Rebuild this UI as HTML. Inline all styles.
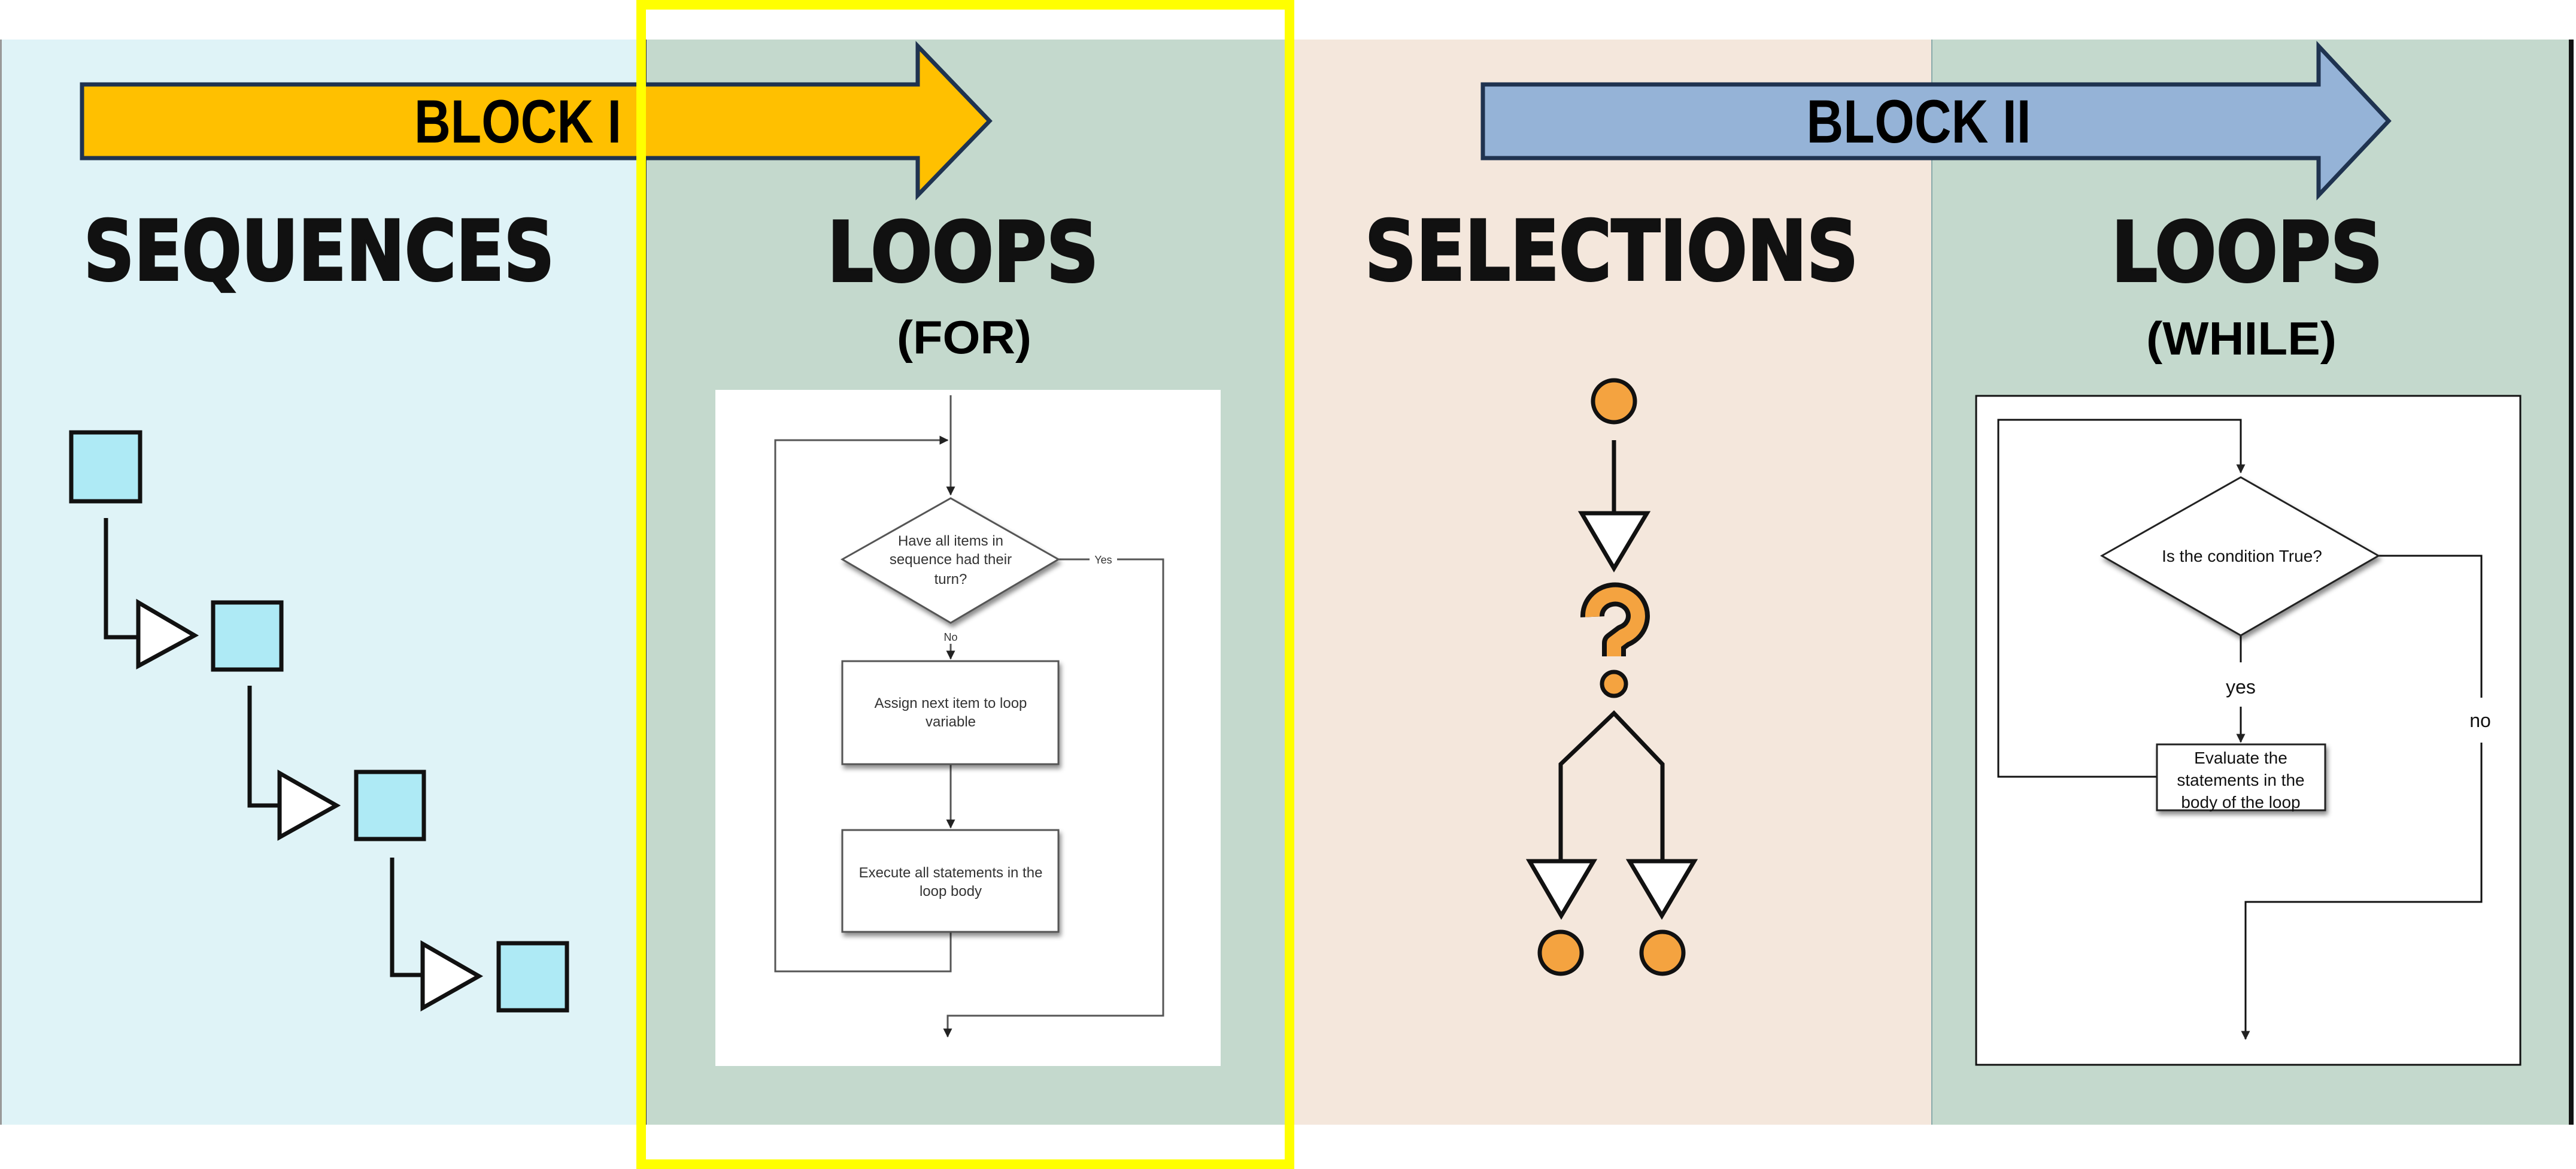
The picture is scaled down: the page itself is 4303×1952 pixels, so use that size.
<!DOCTYPE html>
<html><head><meta charset="utf-8"><style>html,body{margin:0;padding:0;background:#fff}svg{display:block}</style></head>
<body>
<svg width="4303" height="1952" viewBox="0 0 4303 1952" xmlns="http://www.w3.org/2000/svg">
<defs>
<marker id="ah" viewBox="0 0 10 10" refX="9" refY="5" markerWidth="5" markerHeight="5" orient="auto"><path d="M0,0L10,5L0,10z" fill="#222"/></marker>
<filter id="sh" x="-10%" y="-10%" width="130%" height="130%"><feDropShadow dx="3" dy="6" stdDeviation="4" flood-color="#000" flood-opacity="0.45"/></filter>
</defs>
<rect width="4303" height="1952" fill="#fff"/>
<!-- panels -->
<rect x="0" y="66" width="1078" height="1812" fill="#dff3f7"/>
<rect x="0" y="66" width="3" height="1812" fill="#999"/>
<rect x="1078" y="66" width="1072" height="1812" fill="#c4d9cd"/>
<rect x="1076" y="66" width="4" height="1812" fill="#333"/>
<rect x="2150" y="66" width="1077" height="1812" fill="#f4e7dc"/>
<rect x="3227" y="66" width="1066" height="1812" fill="#c4d9cd"/>
<rect x="3226" y="66" width="2" height="1812" fill="#8aa"/>
<rect x="4291" y="66" width="8" height="1812" fill="#111"/>

<!-- arrows -->
<path d="M137,141 L1533,141 L1533,77 L1653,202 L1533,326 L1533,264 L137,264 Z" fill="#ffc000" stroke="#1f3350" stroke-width="7" stroke-linejoin="miter"/>
<text x="865" y="238" font-family="Liberation Sans Narrow, Liberation Sans, sans-serif" font-weight="bold" font-size="102" text-anchor="middle" textLength="346" lengthAdjust="spacingAndGlyphs" fill="#000">BLOCK I</text>
<path d="M2477,141 L3873,141 L3873,77 L3990,202 L3873,326 L3873,264 L2477,264 Z" fill="#95b3d7" stroke="#1f3350" stroke-width="7"/>
<text x="3205" y="238" font-family="Liberation Sans Narrow, Liberation Sans, sans-serif" font-weight="bold" font-size="102" text-anchor="middle" textLength="375" lengthAdjust="spacingAndGlyphs" fill="#000">BLOCK II</text>

<!-- titles -->
<g font-family="DejaVu Sans, Liberation Sans, sans-serif" font-weight="bold" fill="#111" stroke="#111" stroke-width="4">
<text x="140" y="467" font-size="138" textLength="786" lengthAdjust="spacingAndGlyphs">SEQUENCES</text>
<text x="1382" y="469" font-size="138" textLength="453" lengthAdjust="spacingAndGlyphs">LOOPS</text>
<text x="2280" y="467" font-size="138" textLength="824" lengthAdjust="spacingAndGlyphs">SELECTIONS</text>
<text x="3527" y="469" font-size="138" textLength="453" lengthAdjust="spacingAndGlyphs">LOOPS</text>
</g>
<g font-family="Liberation Sans, sans-serif" font-weight="bold" fill="#000">
<text x="1498" y="590" font-size="78" textLength="225" lengthAdjust="spacingAndGlyphs">(FOR)</text>
<text x="3585" y="592" font-size="78" textLength="318" lengthAdjust="spacingAndGlyphs">(WHILE)</text>
</g>

<!-- sequences -->
<g stroke="#111" stroke-width="7" fill="none">
<rect x="119" y="722" width="115" height="115" fill="#aeeaf5"/>
<polyline points="177,865 177,1064 231,1064"/>
<polygon points="231,1006 325,1061 231,1112" fill="#fff"/>
<rect x="356" y="1006" width="114" height="112" fill="#aeeaf5"/>
<polyline points="417,1145 417,1345 467,1345"/>
<polygon points="467,1291 562,1345 467,1398" fill="#fff"/>
<rect x="595" y="1289" width="113" height="112" fill="#aeeaf5"/>
<polyline points="655,1432 655,1628 706,1628"/>
<polygon points="706,1576 800,1630 706,1683" fill="#fff"/>
<rect x="833" y="1575" width="114" height="112" fill="#aeeaf5"/>
</g>

<!-- FOR flowchart -->
<rect x="1195" y="651" width="844" height="1129" fill="#fff"/>
<g stroke="#555" stroke-width="3" fill="none">
<line x1="1588" y1="660" x2="1588" y2="826" marker-end="url(#ah)"/>
<polyline points="1588,1556 1588,1622 1295,1622 1295,735 1583,735" marker-end="url(#ah)"/>
<polyline points="1768,934 1820,934"/>
<polyline points="1866,934 1943,934 1943,1696 1583,1696 1583,1731" marker-end="url(#ah)"/>
<line x1="1588" y1="1075" x2="1588" y2="1100" marker-end="url(#ah)"/>
<line x1="1588" y1="1276" x2="1588" y2="1382" marker-end="url(#ah)"/>
</g>
<g stroke="#555" stroke-width="3" fill="#fff" filter="url(#sh)">
<polygon points="1407,934 1588,832 1768,934 1588,1040"/>
<rect x="1407" y="1104" width="361" height="172"/>
<rect x="1407" y="1386" width="361" height="170"/>
</g>
<g font-family="Liberation Sans, sans-serif" font-size="24" fill="#333" text-anchor="middle">
<text x="1588" y="911">Have all items in</text>
<text x="1588" y="942">sequence had their</text>
<text x="1588" y="975">turn?</text>
<text x="1588" y="1070" font-size="18">No</text>
<text x="1843" y="941" font-size="18">Yes</text>
<text x="1588" y="1182">Assign next item to loop</text>
<text x="1588" y="1213">variable</text>
<text x="1588" y="1465">Execute all statements in the</text>
<text x="1588" y="1496">loop body</text>
</g>

<!-- selections -->
<g stroke="#111" stroke-width="7">
<circle cx="2696" cy="670" r="35" fill="#f4a340"/>
<line x1="2696" y1="735" x2="2696" y2="859"/>
<polygon points="2642,857 2751,857 2696,949" fill="#fff"/>
<circle cx="2696" cy="1142" r="20" fill="#f4a340"/>
<polyline points="2607,1438 2607,1276 2696,1191 2777,1276 2777,1438" fill="none"/>
<polygon points="2555,1438 2662,1438 2608,1529" fill="#fff"/>
<polygon points="2722,1438 2830,1438 2776,1529" fill="#fff"/>
<circle cx="2607" cy="1591" r="35" fill="#f4a340"/>
<circle cx="2777" cy="1591" r="35" fill="#f4a340"/>
</g>
<path d="M2660,1030 A38,36 0 1 1 2712,1062 L2696,1074 L2696,1096" fill="none" stroke="#111" stroke-width="40" stroke-linejoin="round"/>
<path d="M2660,1030 A38,36 0 1 1 2712,1062 L2696,1074 L2696,1096" fill="none" stroke="#f4a340" stroke-width="24" stroke-linejoin="round"/>

<!-- WHILE flowchart -->
<rect x="3301" y="661" width="909" height="1117" fill="#fff" stroke="#111" stroke-width="3"/>
<g stroke="#111" stroke-width="3" fill="none">
<polyline points="3605,1297 3338,1297 3338,701 3743,701 3743,789" marker-end="url(#ah)"/>
<line x1="3743" y1="1061" x2="3743" y2="1106"/>
<line x1="3743" y1="1180" x2="3743" y2="1239" marker-end="url(#ah)"/>
<polyline points="3973,928 4145,928 4145,1165"/>
<polyline points="4145,1240 4145,1506 3751,1506 3751,1735" marker-end="url(#ah)"/>
</g>
<g stroke="#222" stroke-width="3" fill="#fff" filter="url(#sh)">
<polygon points="3511,928 3743,797 3973,928 3743,1061"/>
<rect x="3603" y="1243" width="281" height="110"/>
</g>
<g font-family="Liberation Sans, sans-serif" font-size="28" fill="#111" text-anchor="middle">
<text x="3745" y="938">Is the condition True?</text>
<text x="3743" y="1158" font-size="32">yes</text>
<text x="4143" y="1214" font-size="32">no</text>
<text x="3743" y="1275">Evaluate the</text>
<text x="3743" y="1312">statements in the</text>
<text x="3743" y="1349">body of the loop</text>
</g>

<!-- yellow highlight -->
<rect x="1071" y="8" width="1083" height="1936" fill="none" stroke="#ffff00" stroke-width="16"/>
</svg>
</body></html>
